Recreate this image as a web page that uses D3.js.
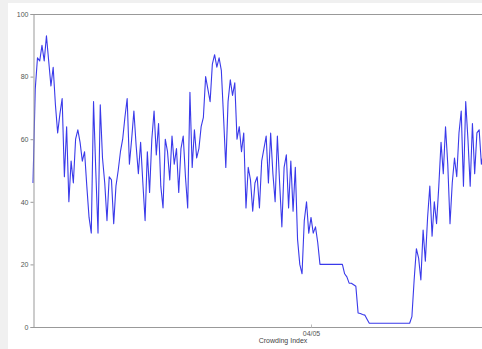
<!DOCTYPE html>
<html>
<head>
<meta charset="utf-8">
<script src="https://cdn.jsdelivr.net/npm/d3@7"></script>
<style>
  html, body { margin: 0; padding: 0; background: #f0f0f0; overflow: hidden; }
  svg { display: block; }
  .tick text { font-family: "Liberation Sans", Arial, sans-serif; font-size: 7px; fill: #555; }
</style>
</head>
<body>
<svg id="chart" width="482" height="349"></svg>
<script>
// hourly crowding index readings, one per hour
var crowding = [
  46, 76, 86, 85, 90, 85, 93, 85, 77, 83,
  71, 62, 68, 73, 48, 64, 40, 53, 46, 60,
  63, 59, 53, 56, 45, 35, 30, 72, 50, 30,
  71, 54, 46, 34, 48, 47, 33, 45, 50, 56,
  60, 67, 73, 52, 60, 69, 58, 49, 59, 46,
  34, 56, 43, 60, 69, 55, 65, 45, 38, 60,
  56, 47, 61, 52, 57, 43, 57, 61, 48, 38,
  75, 51, 63, 54, 57, 64, 67, 80, 76, 72,
  84, 87, 83, 86, 82, 67, 51, 72, 79, 74,
  78, 60, 64, 56, 62, 38, 51, 47, 37, 46,
  48, 38, 53, 57, 61, 46, 62, 49, 40, 61,
  46, 32, 51, 55, 38, 53, 37, 51, 28, 20,
  17, 34, 40, 30, 35, 30, 32, 27, 20, 20,
  20, 20, 20, 20, 20, 20, 20, 20, 20, 17,
  16, 14, 14, 13.5, 13, 4.5, 4.3, 4, 3.8, 2.5,
  1.2, 1.2, 1.2, 1.2, 1.2, 1.2, 1.2, 1.2, 1.2, 1.2,
  1.2, 1.2, 1.2, 1.2, 1.2, 1.2, 1.2, 1.2, 1.2, 3.3,
  15, 25, 22, 15, 31, 21, 35, 45, 29, 40,
  33, 45, 59, 49, 64, 52, 33, 46, 54, 48,
  62, 69, 45, 72, 60, 45, 65, 49, 62, 63,
  52, 56
];
var yTicks = [0, 20, 40, 60, 80, 100];
var xTickHours = [124];
var xTickLabels = ["04/05"];
var xTitle = "Crowding Index";

window.onload = function() {
    var svg = d3.select("#chart"),
        margin = {top: 14, right: 0, bottom: 22, left: 33},
        plotRight = 533,
        height = 349 - margin.top - margin.bottom;

    // white panel behind the chart
    svg.append("rect")
        .attr("x", 8).attr("y", 3)
        .attr("width", 482).attr("height", 349)
        .attr("fill", "#fff");

    var x = d3.scaleLinear().domain([0, 200]).range([margin.left, 481.4]),
        y = d3.scaleLinear().domain([0, 100]).range([margin.top + height, margin.top]);

    var line = d3.line()
        .x(function(d, i) { return x(i); })
        .y(function(d) { return y(d); });

    svg.append("path")
        .datum(crowding)
        .attr("fill", "none")
        .attr("stroke", "#3a3aea")
        .attr("stroke-width", 1.1)
        .attr("stroke-linejoin", "round")
        .attr("d", line);

    // frame: top border
    svg.append("line")
        .attr("x1", margin.left).attr("x2", plotRight)
        .attr("y1", margin.top + 0.5).attr("y2", margin.top + 0.5)
        .attr("stroke", "#999");

    // Y axis
    var yAxis = svg.append("g")
        .attr("transform", "translate(" + (margin.left + 0.5) + ",0)")
        .call(d3.axisLeft(y).tickValues(yTicks).tickSize(3).tickPadding(2));
    yAxis.select(".domain").attr("stroke", "#999");
    yAxis.selectAll(".tick line").attr("stroke", "#999");

    // X axis
    var xAxis = svg.append("g")
        .attr("transform", "translate(0," + (margin.top + height + 0.5) + ")")
        .call(d3.axisBottom(x).tickValues(xTickHours)
            .tickFormat(function(d, i) { return xTickLabels[i]; })
            .tickSizeInner(-3).tickSizeOuter(0).tickPadding(4));
    xAxis.select(".domain").attr("d", "M" + margin.left + ",0H" + plotRight).attr("stroke", "#999");
    xAxis.selectAll(".tick line").attr("stroke", "#bbb");

    svg.append("text")
        .attr("x", (margin.left + plotRight) / 2)
        .attr("y", 343)
        .attr("text-anchor", "middle")
        .style("font-family", "Liberation Sans, Arial, sans-serif")
        .style("font-size", "7px")
        .style("fill", "#444")
        .text(xTitle);
};
</script>
</body>
</html>
